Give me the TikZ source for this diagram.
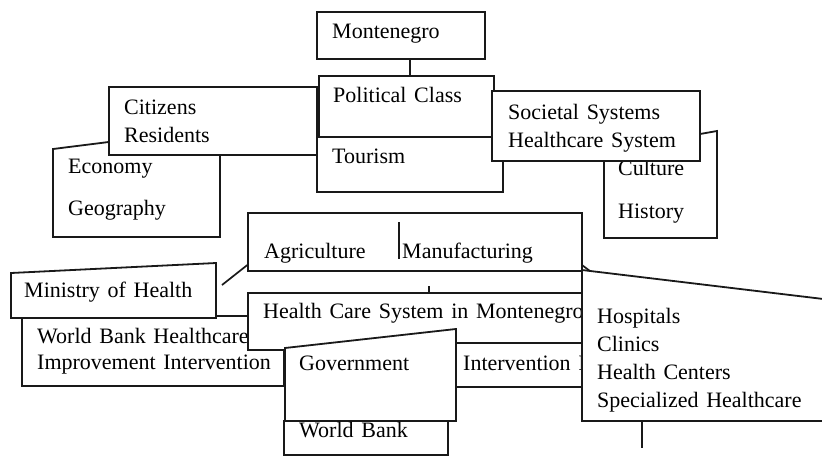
\documentclass[tikz,border=0pt]{standalone}
\usepackage{fontspec}
\setmainfont{Liberation Serif}[WordSpace=1.4]
\begin{document}
\begin{tikzpicture}[x=1pt,y=-1pt]
\tikzset{box/.style = {draw=black!90, fill=white, line width=1.35pt}}
\tikzset{rbox/.style = {box, rectangle, inner sep=0pt}}
\tikzset{skew/.style = {box, line width=1.8pt}}
\tikzset{lbl/.style = {anchor=base west, inner sep=0pt, font=\fontsize{22}{28}\selectfont}}
\tikzset{wire/.style = {draw=black!90, line width=1.7pt}}
\useasboundingbox (0,0) rectangle (822,459);
\clip (0,0) rectangle (822,459);
% country on top
\node[rbox, minimum width=168, minimum height=47] (mne) at (401,35.5) {};
\node[lbl] (mneText) at (332,38) {Montenegro};
% people and land on the left
\draw[skew] (53,149) -- (220,128) -- (220,237) -- (53,237) -- cycle;
\node[lbl] (eco) at (68,173) {Economy};
\node[lbl] (geo) at (68,215) {Geography};
\node[rbox, minimum width=208, minimum height=68] (cit) at (213,121) {};
\node[lbl] (citA) at (124,114) {Citizens};
\node[lbl] (citB) at (124,142) {Residents};
% middle column
\node[rbox, minimum width=186, minimum height=55] (tour) at (410,164.5) {};
\node[lbl] (tourText) at (332,163) {Tourism};
\node[rbox, minimum width=175, minimum height=61] (pol) at (406.5,106.5) {};
\node[lbl] (polText) at (333,102) {Political Class};
\draw[wire] ([xshift=9]mne.south) -- ([xshift=3.5]pol.north);
% society on the right
\draw[skew] (604,151) -- (717,131) -- (717,238) -- (604,238) -- cycle;
\node[lbl] (cul) at (618,175) {Culture};
\node[lbl] (his) at (618,218) {History};
\node[rbox, minimum width=208, minimum height=70] (soc) at (596,126) {};
\node[lbl] (socA) at (508,119) {Societal Systems};
\node[lbl] (socB) at (508,147) {Healthcare System};
% sectors
\node[rbox, minimum width=334, minimum height=58] (agr) at (415,242) {};
\node[lbl] (agrA) at (264,258) {Agriculture};
\node[lbl] (agrB) at (402,258) {Manufacturing};
\draw[wire] (399,222) -- (399,259);
% actors on the left
\node[rbox, minimum width=262, minimum height=70] (wbh) at (153,351) {};
\node[lbl] (wbhA) at (37,343) {World Bank Healthcare};
\node[lbl] (wbhB) at (37,369) {Improvement Intervention};
\draw[skew] (11,273) -- (216,263) -- (216,318) -- (11,318) -- cycle;
\node[lbl] (moh) at (24,297) {Ministry of Health};
\coordinate (mohTip) at (222,285);
\draw[wire] ([yshift=-23]agr.west) -- (mohTip);
% the system itself
\node[rbox, minimum width=334, minimum height=57] (hcs) at (415,321.5) {};
\node[lbl] (hcsText) at (263,318) {Health Care System in Montenegro};
\draw[wire] ([xshift=14]hcs.north) -- ++(0,-6);
\node[rbox, minimum width=126, minimum height=44] (intv) at (519,365) {};
\node[lbl] (intvText) at (463,370) {Intervention I};
% government and funder
\node[rbox, minimum width=164, minimum height=34] (wb) at (366,438) {};
\draw[skew] (285,348) -- (456,329) -- (456,421) -- (285,421) -- cycle;
\node[lbl] (gov) at (299,370) {Government};
\node[lbl] (wbText) at (299,437) {World Bank};
% providers
\draw[skew] (582,270) -- (840,301) -- (840,421) -- (582,421) -- cycle;
\draw[wire] (582,265) -- (590,271);
\node[lbl] (hosA) at (597,323) {Hospitals};
\node[lbl] (hosB) at (597,351) {Clinics};
\node[lbl] (hosC) at (597,379) {Health Centers};
\node[lbl] (hosD) at (597,407) {Specialized Healthcare};
\coordinate (hosFoot) at (642,448);
\draw[wire] (642,421) -- (hosFoot);
\end{tikzpicture}
\end{document}
